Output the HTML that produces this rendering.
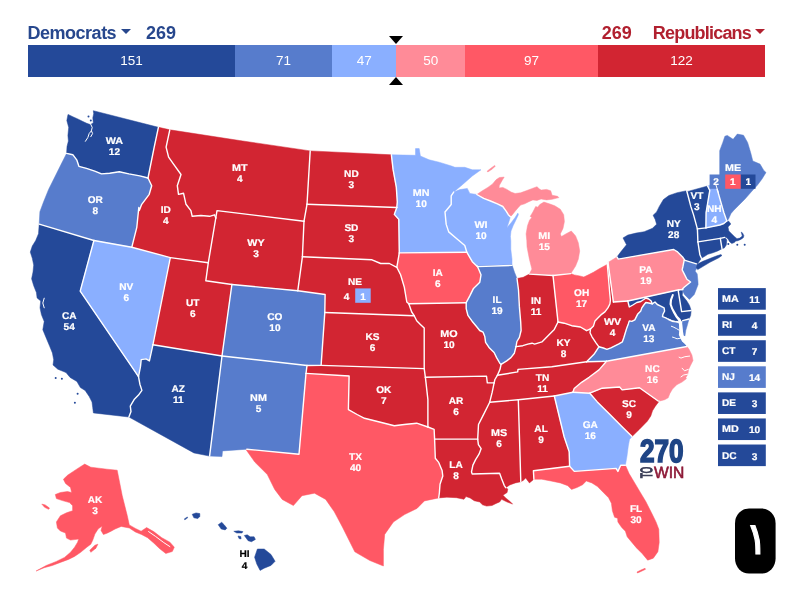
<!DOCTYPE html>
<html lang="en">
<head>
<meta charset="utf-8">
<title>2024 Presidential Election Interactive Map</title>
<style>
html,body{margin:0;padding:0;background:#fff;}
body{width:807px;height:592px;position:relative;overflow:hidden;font-family:"Liberation Sans",sans-serif;}
.hdr{position:absolute;top:21.9px;height:22px;line-height:22px;font-weight:bold;font-size:18px;white-space:nowrap;}
.dem{color:#27478d;}
.rep{color:#b1202f;}
.nm{letter-spacing:-0.5px;}
.rep.nm{letter-spacing:-0.8px;}
.caret{position:absolute;top:29.3px;width:0;height:0;border-left:5px solid transparent;border-right:5px solid transparent;border-top:5px solid #27478d;}
.caret.r{border-top-color:#b1202f;}
.bar{position:absolute;left:28px;top:45px;width:737px;height:31.6px;display:flex;color:#fff;font-size:13.5px;line-height:31.5px;text-align:center;}
.bar div{height:100%;}
.tri{position:absolute;left:388.7px;width:0;height:0;border-left:7.3px solid transparent;border-right:7.3px solid transparent;}
.tri.t{top:35.5px;border-top:8px solid #000;}
.tri.b{top:77px;border-bottom:8px solid #000;}
svg{position:absolute;left:0;top:0;text-rendering:geometricPrecision;}
.st{stroke:#fff;stroke-width:1.35;stroke-linejoin:round;}
.lb{font-family:"Liberation Sans",sans-serif;font-weight:bold;font-size:9.8px;fill:#fff;text-anchor:middle;stroke:#fff;stroke-width:0.2;}
.bx{font-family:"Liberation Sans",sans-serif;font-weight:bold;font-size:9.8px;fill:#fff;stroke:#fff;stroke-width:0.2;}
</style>
</head>
<body>
<div class="hdr dem nm" style="left:27.6px">Democrats</div>
<div class="caret" style="left:120.8px"></div>
<div class="hdr dem" style="left:146px">269</div>
<div class="hdr rep" style="left:601.8px">269</div>
<div class="hdr rep nm" style="left:652.8px">Republicans</div>
<div class="caret r" style="left:755px"></div>
<div class="bar">
<div style="width:206.85px;background:#244999">151</div>
<div style="width:97.26px;background:#577ccc">71</div>
<div style="width:64.38px;background:#8aafff">47</div>
<div style="width:68.5px;background:#ff8b98">50</div>
<div style="width:132.9px;background:#ff5865">97</div>
<div style="width:167.11px;background:#d22532">122</div>
</div>
<div class="tri t"></div><div class="tri b"></div>
<svg width="807" height="592" viewBox="0 0 807 592">

<g stroke-width="0.5" stroke-linejoin="round">
<path id="WA" fill="#244999" stroke="#244999" d="M66.6,153.4 L67,146.5 L68.4,141 L67.9,135.6 L68.7,127.4 L66.8,120.5 L68,114.4 L72.8,116.7 L78.3,119.2 L83,121.6 L86.7,123.3 L90.3,124.6 L93.3,123 L92.8,117.8 L93.7,113.7 L93.3,110.7 L158.4,127.3 L154.2,147.1 L148,178 L139.8,175.9 L128.9,173.9 L119.3,171.8 L109.7,173.2 L101.5,173.9 L94.7,171.1 L86.5,168.4 L78.9,166.3 L76.9,160.2 L72.8,154.7Z"/>
<path id="OR" fill="#577ccc" stroke="#577ccc" d="M39.2,224.1 L39.9,211.7 L43.6,201.8 L48.6,189.4 L54.8,177 L61,164.5 L66.6,153.4 L72.8,154.7 L76.9,160.2 L78.9,166.3 L86.5,168.4 L94.7,171.1 L101.5,173.9 L109.7,173.2 L119.3,171.8 L128.9,173.9 L139.8,175.9 L148,178 L151.7,185.7 L149.2,194.3 L141.7,204.3 L139.3,210.5 L138.8,207.5 L136.8,227.3 L131.8,247.2 L93.9,240.5Z"/>
<path id="CA" fill="#244999" stroke="#244999" d="M39.2,224.1 L38.5,233.7 L35.7,240.5 L32.3,246 L30.3,252.1 L32.3,258.3 L33.7,265.1 L33,272 L31.6,278.8 L33.7,285.7 L36.4,292.5 L37.1,298 L40.7,300.9 L40,307.8 L41.4,314.6 L44.2,321.5 L42.8,329.7 L46.2,337.9 L49.6,346.1 L52.4,352.9 L53.7,359.8 L53,365 L57.8,369.2 L66,372.6 L70.1,377.4 L76.9,381.5 L80.4,387.6 L85.1,390.4 L89.2,396.5 L92,402 L92.7,407.5 L93.4,412.9 L128.9,417 L131,411.6 L130.3,406.1 L134.4,399.2 L138.5,395.1 L141.9,390.4 L139.9,384.2 L138.5,376.7 L80.2,291.1 L93.9,240.5Z"/>
<path id="NV" fill="#8aafff" stroke="#8aafff" d="M138.5,376.7 L80.2,291.1 L93.9,240.5 L131.8,247.2 L170.3,257.6 L152.9,344.8 L149.4,360.9 L146,358.9 L141.2,359.6 L140.5,366.4Z"/>
<path id="ID" fill="#d22532" stroke="#d22532" d="M158.6,127.3 L169.8,129.8 L166.1,147.2 L168.6,157.1 L174.8,165.8 L181,174.5 L177.3,185.7 L178.5,194.4 L183.5,193.2 L186,204.3 L190.9,210.6 L192.2,216.3 L200.9,215.5 L209.6,216.3 L214.5,214.8 L215.8,218 L208.3,262.7 L170.3,257.6 L131.8,247.2 L136.8,227.3 L138.8,207.5 L139.3,210.5 L141.7,204.3 L149.2,194.3 L151.7,185.7 L148,178 L154.2,147.1 L158.4,127.3Z"/>
<path id="MT" fill="#d22532" stroke="#d22532" d="M169.8,129.8 L239.4,140.5 L310.2,150.9 L307,204.3 L304,221.2 L217,210.6 L215.8,218 L214.5,214.8 L209.6,216.3 L200.9,215.5 L192.2,216.3 L190.9,210.6 L186,204.3 L183.5,193.2 L178.5,194.4 L177.3,185.7 L181,174.5 L174.8,165.8 L168.6,157.1 L166.1,147.2Z"/>
<path id="WY" fill="#d22532" stroke="#d22532" d="M215.8,218 L217,210.6 L304,221.2 L302.4,256.8 L297.8,290.7 L231.9,284.5 L205.8,280.8 L208.3,262.7Z"/>
<path id="UT" fill="#d22532" stroke="#d22532" d="M170.3,257.6 L208.3,262.7 L205.8,280.8 L231.9,284.5 L222,356 L152.9,344.8Z"/>
<path id="CO" fill="#577ccc" stroke="#577ccc" d="M231.9,284.5 L297.8,290.7 L325.1,294.5 L324.8,312.5 L321.1,365.4 L307,365.5 L222,356Z"/>
<path id="AZ" fill="#244999" stroke="#244999" d="M152.9,344.8 L222,356 L209.6,456.1 L193.9,452.9 L128.9,417 L131,411.6 L130.3,406.1 L134.4,399.2 L138.5,395.1 L141.9,390.4 L139.9,384.2 L138.5,376.7 L140.5,366.4 L141.2,359.6 L146,358.9 L149.4,360.9Z"/>
<path id="NM" fill="#577ccc" stroke="#577ccc" d="M222,356 L307,365.5 L306,373.4 L299,454.2 L246.8,449.2 L222.5,450.9 L222,456.6 L209.6,456.1Z"/>
<path id="ND" fill="#d22532" stroke="#d22532" d="M310.2,150.9 L391.4,154.8 L393.1,169.7 L396.3,187.1 L397.3,202 L396.8,207.5 L307,204.3Z"/>
<path id="SD" fill="#d22532" stroke="#d22532" d="M307,204.3 L396.8,207.5 L394.3,214.4 L398.8,219.4 L399.3,252.9 L396.8,267.3 L389.4,263.5 L380.7,263.5 L372,259.8 L302.4,256.8 L304,221.2Z"/>
<path id="NE" fill="#d22532" stroke="#d22532" d="M302.4,256.8 L372,259.8 L380.7,263.5 L389.4,263.5 L396.8,267.3 L400.6,274.7 L404.3,287.1 L406.8,302 L408.8,303.8 L411.7,312 L414.2,315.7 L324.8,312.5 L325.1,294.5 L297.8,290.7Z"/>
<path id="KS" fill="#d22532" stroke="#d22532" d="M324.8,312.5 L414.2,315.7 L416.7,320.7 L420.4,324.4 L424.2,328.1 L424.2,368.6 L321.1,365.4Z"/>
<path id="OK" fill="#d22532" stroke="#d22532" d="M307,365.5 L321.1,365.4 L424.2,368.6 L425.4,377.3 L427.9,399.6 L427.9,427 L416.7,423.2 L404.3,424.5 L394.3,425.7 L384.4,423.2 L374.5,420.7 L364.5,418.3 L357.1,414.5 L348.4,409.6 L349.1,376 L306,373.4Z"/>
<path id="TX" fill="#ff5865" stroke="#ff5865" d="M306,373.4 L349.1,376 L348.4,409.6 L357.1,414.5 L364.5,418.3 L374.5,420.7 L384.4,423.2 L394.3,425.7 L404.3,424.5 L416.7,423.2 L427.9,427 L434.1,429.4 L434.6,439.1 L435.3,458.3 L438.7,462.4 L442.1,470.6 L442.8,476 L440,484.2 L439.4,492.5 L438.7,497.9 L424.4,500.9 L417,508.4 L404.5,514.6 L393.4,522 L384.7,534.4 L383.4,549.3 L383.4,566 L369.8,560.5 L354.8,551.8 L342.4,527 L334.3,511.8 L325.7,499.4 L314.5,493.2 L302,495.7 L293.4,505.6 L282.2,499.4 L274.7,489.4 L267.3,474.5 L254.8,462.1 L246.1,449.7 L246.8,449.2 L299,454.2Z"/>
<path id="MN" fill="#8aafff" stroke="#8aafff" d="M391.4,154.8 L415.5,155.3 L415.5,148.6 L419.2,148.6 L420.4,156 L429.1,159.8 L439.1,162.2 L451.5,166 L454.9,167.3 L464.8,167.3 L472.3,169.8 L481,169.8 L472.3,176 L462.4,184.7 L453.7,192.1 L451.2,195.8 L451.2,204.5 L445,212 L446.2,224.4 L448.7,231.9 L457.4,239.3 L464.8,245.5 L466.8,252.2 L466.4,252.2 L399.3,252.9 L398.8,219.4 L394.3,214.4 L396.8,207.5 L397.3,202 L396.3,187.1 L393.1,169.7Z"/>
<path id="IA" fill="#ff5865" stroke="#ff5865" d="M399.3,252.9 L466.4,252.2 L466.8,252.2 L472.3,261.7 L477.3,266.6 L477.3,266.1 L481,274.8 L479.8,282.2 L473.5,288.4 L469.8,295.9 L466.2,302.7 L408.8,303.8 L406.8,302 L404.3,287.1 L400.6,274.7 L396.8,267.3Z"/>
<path id="MO" fill="#d22532" stroke="#d22532" d="M408.8,303.8 L466.2,302.7 L466.2,308.6 L467.9,315.3 L472.1,321.2 L476.3,326.3 L479.7,330.5 L483.1,332.2 L484.8,336.5 L485.6,342.4 L489,347.4 L494.1,352.5 L496.6,357.6 L500,363.5 L501.1,364.3 L500,369.4 L497.4,375.3 L494.9,379.5 L494.1,382.9 L487.3,382.9 L486.5,376.1 L425.4,377.3 L424.2,368.6 L424.2,328.1 L420.4,324.4 L416.7,320.7 L414.2,315.7 L411.7,312Z"/>
<path id="AR" fill="#d22532" stroke="#d22532" d="M425.4,377.3 L486.5,376.1 L487.3,382.9 L494.1,382.9 L492.2,392.2 L489.7,402.2 L483.5,414.6 L478.5,424.5 L477.7,439.1 L434.6,439.1 L434.1,429.4 L427.9,427 L427.9,399.6Z"/>
<path id="LA" fill="#d22532" stroke="#d22532" d="M434.6,439.1 L477.7,439.1 L478.4,444.6 L481.1,448.7 L479,454.2 L475.6,459.6 L472.9,465.1 L471.5,471.9 L472.2,474 L499.6,473.3 L501.6,478.8 L504.3,485.6 L505.7,487.7 L507.8,489 L507.1,492.5 L503,495.2 L505.7,497.9 L509.8,501.3 L512.6,504.1 L507.1,502 L501.6,499.3 L499.6,502 L496.1,503.4 L492,505.5 L486.6,506.1 L482.5,504.8 L479.7,502 L474.2,500.7 L470.1,497.9 L466,496.6 L464,499.3 L456.5,497.7 L446.9,497.2 L438.7,497.9 L439.4,492.5 L440,484.2 L442.8,476 L442.1,470.6 L438.7,462.4 L435.3,458.3Z"/>
<path id="MS" fill="#d22532" stroke="#d22532" d="M489.7,402.2 L518.3,399.7 L519.4,435 L520.8,481.8 L515.3,482.9 L509.8,484.9 L505.7,487.7 L504.3,485.6 L501.6,478.8 L499.6,473.3 L472.2,474 L471.5,471.9 L472.9,465.1 L475.6,459.6 L479,454.2 L481.1,448.7 L478.4,444.6 L477.7,439.1 L478.5,424.5 L483.5,414.6Z"/>
<path id="AL" fill="#d22532" stroke="#d22532" d="M518.3,399.7 L554.3,396 L564.2,437 L569.2,451.9 L569.6,466.2 L533.4,470.8 L533.9,479.2 L529.4,482.9 L525.7,478 L523.2,480.4 L520.8,481.8 L519.4,435Z"/>
<path id="GA" fill="#8aafff" stroke="#8aafff" d="M554.3,396 L572.9,392.2 L589.8,393.2 L597.3,401.9 L609.7,414.3 L622.1,426.7 L632,436.6 L629.5,439.5 L628.3,446 L627,456 L625.4,465.2 L620.7,465.2 L617.9,471.4 L616.1,468.4 L574.3,471.4 L569.6,466.2 L569.2,451.9 L564.2,437Z"/>
<path id="FL" fill="#ff5865" stroke="#ff5865" d="M569.6,466.2 L574.3,471.4 L616.1,468.4 L617.9,471.4 L620.7,465.2 L625.4,465.2 L629.1,473.6 L634.7,482.9 L640.2,492.2 L645.8,501.5 L651.4,512.6 L656,521.9 L658.8,529.3 L659.2,542.4 L657.9,551.7 L653.3,558.2 L647.7,560.2 L642.1,553.5 L636.5,547.9 L631.9,542.4 L627.2,536.8 L625.4,531.2 L621.7,527.5 L617.9,521.9 L617.6,518.2 L614.6,517.3 L612.4,510.8 L611.4,503.3 L608.6,497.8 L603.1,492.2 L597.5,486.6 L591.9,482.9 L586.3,481 L582.6,484.7 L577,487.5 L571.5,489.4 L567.8,485.7 L560.3,482.9 L551,481 L541.7,479.2 L533.9,479.2 L533.4,470.8Z"/>
<path id="SC" fill="#d22532" stroke="#d22532" d="M589.8,393.2 L602.2,388.2 L619.6,387 L622.1,389.9 L639.5,387.8 L657.8,400.8 L659.1,401.2 L655.2,406.4 L652.5,410.8 L650.8,416 L647.3,421.2 L639.5,429.2 L632,436.6 L622.1,426.7 L609.7,414.3 L597.3,401.9Z"/>
<path id="NC" fill="#ff8b98" stroke="#ff8b98" d="M606.5,361.2 L687,346.5 L689.2,349.6 L691.9,355 L693,360.5 L690.6,365.3 L688.6,369.4 L687.8,374.2 L685.9,377.6 L686.4,378.7 L682,382.1 L676.8,384.7 L672.5,389.1 L669.9,393.4 L668.2,397.8 L664.7,399.7 L659.1,401.2 L657.8,400.8 L639.5,387.8 L622.1,389.9 L619.6,387 L602.2,388.2 L589.8,393.2 L572.9,392.2 L574.2,388.5 L581.6,382.3 L589.1,377.3 L599,369.9Z"/>
<path id="TN" fill="#d22532" stroke="#d22532" d="M497.4,375.3 L517.7,371.9 L518,369.4 L551.8,366.7 L586.6,361.7 L606.5,361.2 L599,369.9 L589.1,377.3 L581.6,382.3 L574.2,388.5 L572.9,392.2 L554.3,396 L518.3,399.7 L489.7,402.2 L492.2,392.2 L494.1,382.9 L494.9,379.5Z"/>
<path id="KY" fill="#d22532" stroke="#d22532" d="M516,346.6 L522.8,345.7 L527.8,344.1 L532.1,343.2 L534.6,344.1 L541.9,341.9 L549.3,334.4 L554.3,329.4 L558,322 L564.2,323.2 L571.7,325.7 L580.4,327 L586.6,330.7 L590.5,328.9 L590,332.8 L592,336.8 L596,342.8 L598.9,346.8 L594,354.3 L586.6,361.7 L551.8,366.7 L518,369.4 L517.7,371.9 L497.4,375.3 L500,369.4 L501.1,364.3 L506.7,360.9 L510.9,357.6 L514.3,353.3Z"/>
<path id="WI" fill="#8aafff" stroke="#8aafff" d="M453.7,192.1 L459.9,189.6 L467.3,188.4 L469.8,193.4 L476.8,194.5 L483.7,198.3 L490.5,201 L497.4,203.8 L502.8,206.5 L506.3,211.3 L508.3,214.7 L510.4,216.8 L509,221.6 L506.9,227.7 L511,222.9 L515.1,217.5 L517.9,213.1 L518.4,214.7 L515.8,220.2 L513.1,225.7 L511,231.1 L510.4,236.6 L510.8,240.7 L510.8,249.3 L512,259.2 L512,265.4 L477.3,266.6 L472.3,261.7 L466.8,252.2 L464.8,245.5 L457.4,239.3 L448.7,231.9 L446.2,224.4 L445,212 L451.2,204.5 L451.2,195.8Z"/>
<path id="MI_UP" fill="#ff8b98" stroke="#ff8b98" d="M476.8,194.5 L482.3,190.8 L487.8,187.4 L492.6,183.9 L496,179.8 L499.4,177.5 L504.2,177.1 L502.1,180.5 L499.4,185.3 L499,188 L502.8,187.4 L506.9,189.4 L511,192.1 L515.1,193.5 L520.6,192.8 L526.1,190.8 L531.6,188.7 L537,186.7 L539.1,188.7 L541.1,190.1 L546.6,189.4 L550.7,190.8 L552.1,195.3 L557.6,196.3 L558.9,197.6 L552.1,199.3 L546.6,199.9 L541.1,199 L537,200.4 L532.9,199.9 L528.8,201.7 L524.7,203.8 L520.6,205.1 L517.9,207.9 L515.1,211.3 L512.4,214.7 L510.4,216.8 L508.3,214.7 L506.3,211.3 L502.8,206.5 L497.4,203.8 L490.5,201 L483.7,198.3Z"/>
<path id="MI" fill="#ff8b98" stroke="#ff8b98" d="M543.9,202.1 L549.3,203.8 L554.8,205.8 L560.3,209.2 L563.7,214.7 L564.4,221.6 L563,228.4 L560.3,233.9 L561.4,236.6 L565.8,233.9 L571.2,231.1 L571.5,231.2 L575.6,235.9 L578.3,242.8 L579.7,251 L578.3,259.2 L575.6,266 L572.1,271.5 L570.8,273.6 L553,275.5 L529.4,274.1 L531.9,269.1 L529.4,259.2 L527,246.8 L526.8,240.7 L526.1,233.9 L527.5,225.7 L529.5,220.2 L531.8,217.5 L530.2,216.4 L532.9,212 L535.7,206.5 L537.7,207.2 L539.8,204.5Z"/>
<path id="IL" fill="#577ccc" stroke="#577ccc" d="M512,265.4 L477.3,266.6 L512,264.8 L514.5,272.3 L517,278.5 L518.5,290 L519.4,306.9 L520.7,322.1 L521.1,330.5 L519.4,337.3 L516.9,341.5 L516,346.6 L514.3,353.3 L510.9,357.6 L506.7,360.9 L501.1,364.3 L500,363.5 L496.6,357.6 L494.1,352.5 L489,347.4 L485.6,342.4 L484.8,336.5 L483.1,332.2 L479.7,330.5 L476.3,326.3 L472.1,321.2 L467.9,315.3 L466.2,308.6 L466.2,302.7 L469.8,295.9 L473.5,288.4 L479.8,282.2 L481,274.8 L477.3,266.1Z"/>
<path id="IN" fill="#d22532" stroke="#d22532" d="M517,278.5 L523.2,277.3 L529.4,274.1 L553,275.5 L558,322 L554.3,329.4 L549.3,334.4 L541.9,341.9 L534.6,344.1 L532.1,343.2 L527.8,344.1 L522.8,345.7 L516,346.6 L516.9,341.5 L519.4,337.3 L521.1,330.5 L520.7,322.1 L519.4,306.9 L518.5,290Z"/>
<path id="OH" fill="#ff5865" stroke="#ff5865" d="M553,275.5 L570.8,273.6 L574.2,274.9 L579.7,275.9 L583.8,277 L587.9,275.1 L593.4,272.3 L598.8,269 L604.3,266 L607.3,264.3 L609.9,295 L610.4,300 L609.9,304 L607.9,307.9 L604.9,311.9 L600.9,314.9 L597.9,317.9 L595,320.9 L593.5,325.9 L590.5,328.9 L586.6,330.7 L580.4,327 L571.7,325.7 L564.2,323.2 L558,322Z"/>
<path id="WV" fill="#d22532" stroke="#d22532" d="M590.5,328.9 L593.5,325.9 L595,320.9 L597.9,317.9 L600.9,314.9 L604.9,311.9 L607.9,307.9 L609.9,304 L610.4,300 L609.9,295 L607.3,264.3 L608,262.5 L613.4,302 L627.8,301 L629.3,307 L632.8,305 L636.8,302.5 L640.8,301.5 L643.8,299.5 L645.8,298 L648.7,299 L651.2,301 L652.2,303.8 L648.7,303 L645.8,302.5 L643.8,305 L641.8,307.9 L640.8,310.9 L637.8,313.9 L636.3,316.9 L634.8,319.9 L631.8,321.4 L629.3,320.9 L628.3,323.9 L626.8,327.9 L625.3,332.8 L623.8,337.8 L622.4,341.8 L618.9,343.8 L614.9,345.8 L610.9,347.8 L606.9,349.3 L603.4,348 L598.9,346.8 L596,342.8 L592,336.8 L590,332.8Z"/>
<path id="VA" fill="#577ccc" stroke="#577ccc" d="M598.9,346.8 L603.4,348 L606.9,349.3 L610.9,347.8 L614.9,345.8 L618.9,343.8 L622.4,341.8 L623.8,337.8 L625.3,332.8 L626.8,327.9 L628.3,323.9 L629.3,320.9 L631.8,321.4 L634.8,319.9 L636.3,316.9 L637.8,313.9 L640.8,310.9 L641.8,307.9 L643.8,305 L645.8,302.5 L648.7,303 L652.2,303.8 L655,302 L657.3,304.5 L660.7,306.1 L664.1,307.9 L664.6,311 L662.9,314.4 L662.5,316.7 L665.8,317.8 L668.6,319.5 L672,321.2 L675.9,321.9 L678.2,322.3 L679,324 L679.4,330.3 L678.9,334.8 L680.5,338.2 L682.2,341.6 L685,343.9 L687,346.5 L606.5,361.2 L586.6,361.7 L594,354.3Z"/>
<path id="VA_es" fill="#577ccc" stroke="#577ccc" d="M682.7,320.6 L689,319 L687.5,324.6 L685.8,330.3 L684.9,336.2 L683.5,335.4 L682.8,330.3 L682.2,324.6Z"/>
<path id="MD" fill="#244999" stroke="#244999" d="M627.8,301 L678.9,289.8 L627.8,301 L629.3,307 L632.8,305 L636.8,302.5 L640.8,301.5 L643.8,299.5 L645.8,298 L648.7,299 L651.2,301 L652.2,303.8 L655,302 L657.3,304.5 L660.7,306.1 L664.1,307.9 L664.6,311 L662.9,314.4 L662.5,316.7 L665.8,317.8 L668.6,319.5 L672,321.2 L675.9,321.9 L678.2,322.3 L682.7,320.6 L689,319 L690.6,315.6 L691.2,310.5 L681.6,311.6 L678.2,290.7 L678.9,289.8Z"/>
<path id="DE" fill="#244999" stroke="#244999" d="M683,289.6 L682.2,295.2 L686.7,300.8 L689.5,305.4 L691.2,310.5 L681.6,311.6 L678.2,290.7 L678.9,289.8Z"/>
<path id="PA" fill="#ff8b98" stroke="#ff8b98" d="M608,262.5 L616.9,257 L618.3,259.1 L673.7,249.5 L677.1,251.6 L682.6,257 L684.6,259.8 L684.2,260.2 L682.8,267 L682.1,269.8 L684.2,273.9 L686.9,279.3 L690.6,282 L684.4,287 L681.9,289.4 L683,289.6 L678.9,289.8 L627.8,301 L613.4,302Z"/>
<path id="NJ" fill="#577ccc" stroke="#577ccc" d="M684.2,260.2 L696.4,263.8 L697.1,267.8 L695.1,271.1 L697.2,273.9 L697.9,280.7 L698.1,284.5 L694.3,294.4 L689.4,299.4 L684.4,294.4 L681.9,289.4 L684.4,287 L690.6,282 L686.9,279.3 L684.2,273.9 L682.1,269.8 L682.8,267Z"/>
<path id="NY" fill="#244999" stroke="#244999" d="M616.9,257 L621,251.6 L626.5,244.7 L623,237.9 L627.8,235.1 L636,233.1 L644.2,231.7 L652.5,228.3 L656.6,224.2 L655.2,219.4 L653.1,215.3 L656.6,211.9 L659.3,206.4 L663.4,199.6 L668.9,195.5 L677.1,192.7 L686.7,190.7 L688.7,198.2 L690.8,206.4 L693.5,214.6 L697.4,228.9 L697.9,241.9 L699.9,254.8 L701.4,258.3 L698.9,261.8 L696.9,264.8 L696.4,263.8 L684.2,260.2 L684.6,259.8 L682.6,257 L677.1,251.6 L673.7,249.5 L618.3,259.1Z"/>
<path id="LI" fill="#244999" stroke="#244999" d="M696.9,264.8 L698.9,263.3 L702.9,261.3 L707.9,259.3 L712.9,257.3 L716.9,255.8 L720.8,254.6 L722,255.4 L718.8,257.8 L714.9,259.8 L709.9,262.3 L704.9,265.3 L699.9,268.3 L697.7,269.6 L696.4,267.8Z"/>
<path id="CT" fill="#244999" stroke="#244999" d="M697.9,241.9 L720.3,238.4 L722,248.7 L717.8,250.9 L712.9,252.8 L707.9,254.3 L703.9,256.8 L701.4,258.3 L699.9,254.8Z"/>
<path id="RI" fill="#244999" stroke="#244999" d="M720.3,238.4 L724.8,237.4 L726.8,239.9 L726.3,244.9 L724.3,247.9 L722,248.7Z"/>
<path id="MA" fill="#244999" stroke="#244999" d="M697.4,228.9 L705.9,227.9 L719.8,225 L723.8,223.5 L726.8,221 L728.8,221.2 L730.8,224 L728,227 L728.8,230.9 L731.8,233.9 L734.3,236.4 L737,238.7 L739.8,238.1 L742.3,236.1 L741.2,232.1 L742.5,232.9 L743.9,235.7 L743.3,237.7 L740.8,239.4 L737.8,240.7 L735.8,241.1 L734.3,242.5 L731.8,243.5 L729.8,241.9 L728.3,239.4 L726.8,237.7 L724.8,237.4 L720.3,238.4 L697.9,241.9Z"/>
<path id="VT" fill="#244999" stroke="#244999" d="M686,191.9 L707.6,186 L709.8,190.4 L708.3,199.3 L706.1,212.7 L705.9,227.9 L697.4,228.9 L693.5,214.6 L690.8,206.4 L688.7,198.2 L686.7,190.7Z"/>
<path id="NH" fill="#8aafff" stroke="#8aafff" d="M707.6,186 L712,184.5 L715.8,184.5 L723.9,212.7 L726.8,221 L723.8,223.5 L719.8,225 L705.9,227.9 L706.1,212.7 L708.3,199.3 L709.8,190.4Z"/>
<path id="ME" fill="#577ccc" stroke="#577ccc" d="M715.8,184.5 L719.7,181.7 L719.7,171.4 L719.7,150.7 L722.8,142.4 L724.9,136.2 L727.3,135.4 L733.1,139.3 L737.3,134.1 L743.5,135.2 L747.6,142.4 L750.7,152.8 L752.8,161 L760,164.1 L763.8,170.4 L766,172.5 L762,179 L757.5,185 L752,191 L745,199 L739,205 L734,210 L731,213.5 L728.5,219 L726.8,221 L723.9,212.7Z"/>
<path id="MI_ir" fill="#ff8b98" stroke="#ff8b98" d="M487.1,171.2 L490.5,168.5 L494.6,165.5 L495.3,166.2 L491.9,169.3 L487.8,172Z"/>
<path id="FL_k" fill="#ff5865" stroke="#ff5865" d="M637,572 L641,570 L645,568.3 L645.5,569.3 L641.5,571.2 L637.5,573Z"/>
<path id="AK" fill="#ff5865" stroke="#ff5865" d="M84.7,464.1 L90.8,467.2 L98.9,468.2 L107,469.2 L117.2,470.2 L122.2,495.5 L127.3,515.8 L129.3,524.9 L135.4,528.4 L141.1,531.2 L146.6,527.6 L153.7,531.6 L161.8,537.7 L169.9,542.2 L174.3,547.2 L172.3,551.5 L165.8,553.5 L159.7,548.7 L153.7,543 L147.6,537.7 L141.5,534.5 L135.4,532 L129.3,528 L121.2,526.4 L115.1,529 L111.1,531.2 L107,533.2 L103.4,534.5 L101,530.4 L102.2,526 L98.1,529 L94.9,534.1 L92.8,540.1 L90.8,544.2 L86.8,547.2 L80.7,552.3 L74.6,556.4 L68.5,559.4 L60.4,562.4 L52.3,565.5 L44.2,567.7 L36.1,571 L46.2,565.5 L56.4,561.4 L64.5,557.4 L70.5,552.3 L74.6,547.2 L77.6,542.2 L78.7,539.1 L70.5,540.1 L66.5,538.1 L65.5,533 L60.4,531 L57.4,528 L56.4,521.9 L60.4,515.8 L66.5,512.8 L72.6,510.7 L72.6,505.7 L69.5,502.6 L62.4,500.6 L56.4,498.6 L55.3,494.5 L60.4,492.5 L67.5,491.5 L71.6,492.5 L70.5,487.4 L65.5,483.4 L63.4,479.3 L67.5,475.3 L73.6,471.2 L79.7,467.2Z"/>
<path id="AK_k" fill="#ff5865" stroke="#ff5865" d="M89.8,550.3 L94.9,545.2 L97.9,544.2 L95.9,548.2 L90.8,552.3Z"/>
<path id="AK_s" fill="#ff5865" stroke="#ff5865" d="M41.8,504.1 L45.2,504.9 L49.5,508.1 L48.6,509.3 L44.6,507.3Z"/>
<path id="HI1" fill="#244999" stroke="#244999" d="M192.2,514.3 L196,512.9 L199.8,513.6 L199.8,516.4 L197.8,518.6 L193.9,517.8Z"/>
<path id="HI2" fill="#244999" stroke="#244999" d="M218.2,524.7 L221.7,522.3 L224.1,524.7 L226.9,528.2 L225.2,529.9 L221.2,529Z"/>
<path id="HI3" fill="#244999" stroke="#244999" d="M233.8,531.3 L238.5,530.8 L242.9,531.6 L242,533 L236.8,533Z"/>
<path id="HI4" fill="#244999" stroke="#244999" d="M238,536 L240.8,536.5 L241.1,538.9 L239,538.6Z"/>
<path id="HI5" fill="#244999" stroke="#244999" d="M244.3,535.5 L247.2,534.8 L250.2,536.8 L254.1,536.8 L255.4,539.4 L251.5,541.7 L248.1,540.7 L246.3,538.2Z"/>
<path id="HI6" fill="#244999" stroke="#244999" d="M257.4,549 L264.2,549 L271,554.5 L275.1,561.3 L271,565.4 L264.2,568.2 L260.1,570.4 L256.8,564.1 L254.6,557.2Z"/>
<path id="HI7" fill="#244999" stroke="#244999" d="M184.2,519.1 L187.3,516.9 L187.7,517.8 L184.9,519.8Z"/>
</g>
<g fill="#fff" stroke="none">
<path d="M672.2,294.1 L669.9,299.7 L669.5,304.2 L671.1,308.8 L673.3,313.3 L675.6,317.3 L678.2,320.6 L678.2,322.3 L679,324 L679.4,330.3 L678.9,334.8 L680.5,338.2 L682.2,341.6 L685,343.9 L687,346.5 L689,346.1 L687.3,342.7 L684.9,336.2 L683.5,335.4 L682.8,330.3 L682.2,324.6 L681.6,321.8 L680.5,319 L677.6,316.1 L675.4,312.2 L673.1,308.2 L671.7,304.2 L672,300.3 L674,294.6Z"/>
</g>
<g fill="none" stroke="#fff" stroke-width="1.4" stroke-linecap="round" stroke-linejoin="round">
<path d="M66.6,153.4 L72.8,154.7 L76.9,160.2 L78.9,166.3 L86.5,168.4 L94.7,171.1 L101.5,173.9 L109.7,173.2 L119.3,171.8 L128.9,173.9 L139.8,175.9 L148,178"/>
<path d="M158.4,127.3 L154.2,147.1 L148,178"/>
<path d="M148,178 L151.7,185.7 L149.2,194.3 L141.7,204.3 L139.3,210.5 L138.8,207.5 L136.8,227.3 L131.8,247.2"/>
<path d="M39.2,224.1 L93.9,240.5"/>
<path d="M93.9,240.5 L131.8,247.2"/>
<path d="M128.9,417 L131,411.6 L130.3,406.1 L134.4,399.2 L138.5,395.1 L141.9,390.4 L139.9,384.2 L138.5,376.7"/>
<path d="M138.5,376.7 L80.2,291.1 L93.9,240.5"/>
<path d="M138.5,376.7 L140.5,366.4 L141.2,359.6 L146,358.9 L149.4,360.9 L152.9,344.8"/>
<path d="M152.9,344.8 L170.3,257.6"/>
<path d="M131.8,247.2 L170.3,257.6"/>
<path d="M169.8,129.8 L166.1,147.2 L168.6,157.1 L174.8,165.8 L181,174.5 L177.3,185.7 L178.5,194.4 L183.5,193.2 L186,204.3 L190.9,210.6 L192.2,216.3 L200.9,215.5 L209.6,216.3 L214.5,214.8 L215.8,218"/>
<path d="M215.8,218 L208.3,262.7"/>
<path d="M170.3,257.6 L208.3,262.7"/>
<path d="M310.2,150.9 L307,204.3"/>
<path d="M307,204.3 L304,221.2"/>
<path d="M215.8,218 L217,210.6 L304,221.2"/>
<path d="M304,221.2 L302.4,256.8"/>
<path d="M302.4,256.8 L297.8,290.7"/>
<path d="M231.9,284.5 L297.8,290.7"/>
<path d="M208.3,262.7 L205.8,280.8 L231.9,284.5"/>
<path d="M231.9,284.5 L222,356"/>
<path d="M152.9,344.8 L222,356"/>
<path d="M222,356 L209.6,456.1"/>
<path d="M222,356 L307,365.5"/>
<path d="M307,365.5 L321.1,365.4"/>
<path d="M321.1,365.4 L324.8,312.5"/>
<path d="M324.8,312.5 L325.1,294.5 L297.8,290.7"/>
<path d="M307,365.5 L306,373.4"/>
<path d="M306,373.4 L299,454.2 L246.8,449.2"/>
<path d="M391.4,154.8 L393.1,169.7 L396.3,187.1 L397.3,202 L396.8,207.5"/>
<path d="M307,204.3 L396.8,207.5"/>
<path d="M396.8,207.5 L394.3,214.4 L398.8,219.4 L399.3,252.9"/>
<path d="M399.3,252.9 L396.8,267.3"/>
<path d="M302.4,256.8 L372,259.8 L380.7,263.5 L389.4,263.5 L396.8,267.3"/>
<path d="M396.8,267.3 L400.6,274.7 L404.3,287.1 L406.8,302 L408.8,303.8"/>
<path d="M408.8,303.8 L411.7,312 L414.2,315.7"/>
<path d="M324.8,312.5 L414.2,315.7"/>
<path d="M414.2,315.7 L416.7,320.7 L420.4,324.4 L424.2,328.1 L424.2,368.6"/>
<path d="M321.1,365.4 L424.2,368.6"/>
<path d="M424.2,368.6 L425.4,377.3"/>
<path d="M425.4,377.3 L427.9,399.6 L427.9,427"/>
<path d="M306,373.4 L349.1,376 L348.4,409.6 L357.1,414.5 L364.5,418.3 L374.5,420.7 L384.4,423.2 L394.3,425.7 L404.3,424.5 L416.7,423.2 L427.9,427"/>
<path d="M427.9,427 L434.1,429.4 L434.6,439.1"/>
<path d="M434.6,439.1 L435.3,458.3 L438.7,462.4 L442.1,470.6 L442.8,476 L440,484.2 L439.4,492.5 L438.7,497.9"/>
<path d="M399.3,252.9 L466.4,252.2"/>
<path d="M408.8,303.8 L466.2,302.7"/>
<path d="M453.7,192.1 L451.2,195.8 L451.2,204.5 L445,212 L446.2,224.4 L448.7,231.9 L457.4,239.3 L464.8,245.5 L466.8,252.2"/>
<path d="M466.8,252.2 L472.3,261.7 L477.3,266.6"/>
<path d="M477.3,266.1 L481,274.8 L479.8,282.2 L473.5,288.4 L469.8,295.9 L466.2,302.7"/>
<path d="M466.2,302.7 L466.2,308.6 L467.9,315.3 L472.1,321.2 L476.3,326.3 L479.7,330.5 L483.1,332.2 L484.8,336.5 L485.6,342.4 L489,347.4 L494.1,352.5 L496.6,357.6 L500,363.5 L501.1,364.3"/>
<path d="M501.1,364.3 L500,369.4 L497.4,375.3"/>
<path d="M497.4,375.3 L494.9,379.5 L494.1,382.9"/>
<path d="M425.4,377.3 L486.5,376.1 L487.3,382.9 L494.1,382.9"/>
<path d="M494.1,382.9 L492.2,392.2 L489.7,402.2"/>
<path d="M489.7,402.2 L483.5,414.6 L478.5,424.5 L477.7,439.1"/>
<path d="M434.6,439.1 L477.7,439.1"/>
<path d="M477.7,439.1 L478.4,444.6 L481.1,448.7 L479,454.2 L475.6,459.6 L472.9,465.1 L471.5,471.9 L472.2,474 L499.6,473.3 L501.6,478.8 L504.3,485.6 L505.7,487.7"/>
<path d="M518.3,399.7 L519.4,435 L520.8,481.8"/>
<path d="M489.7,402.2 L518.3,399.7"/>
<path d="M518.3,399.7 L554.3,396"/>
<path d="M554.3,396 L564.2,437 L569.2,451.9 L569.6,466.2"/>
<path d="M569.6,466.2 L533.4,470.8 L533.9,479.2"/>
<path d="M554.3,396 L572.9,392.2"/>
<path d="M572.9,392.2 L589.8,393.2"/>
<path d="M589.8,393.2 L597.3,401.9 L609.7,414.3 L622.1,426.7 L632,436.6"/>
<path d="M569.6,466.2 L574.3,471.4 L616.1,468.4 L617.9,471.4 L620.7,465.2 L625.4,465.2"/>
<path d="M476.8,194.5 L483.7,198.3 L490.5,201 L497.4,203.8 L502.8,206.5 L506.3,211.3 L508.3,214.7 L510.4,216.8"/>
<path d="M477.3,266.6 L512,265.4"/>
<path d="M529.4,274.1 L553,275.5"/>
<path d="M553,275.5 L570.8,273.6"/>
<path d="M517,278.5 L518.5,290 L519.4,306.9 L520.7,322.1 L521.1,330.5 L519.4,337.3 L516.9,341.5 L516,346.6"/>
<path d="M516,346.6 L514.3,353.3 L510.9,357.6 L506.7,360.9 L501.1,364.3"/>
<path d="M553,275.5 L558,322"/>
<path d="M516,346.6 L522.8,345.7 L527.8,344.1 L532.1,343.2 L534.6,344.1 L541.9,341.9 L549.3,334.4 L554.3,329.4 L558,322"/>
<path d="M558,322 L564.2,323.2 L571.7,325.7 L580.4,327 L586.6,330.7 L590.5,328.9"/>
<path d="M590.5,328.9 L593.5,325.9 L595,320.9 L597.9,317.9 L600.9,314.9 L604.9,311.9 L607.9,307.9 L609.9,304 L610.4,300 L609.9,295 L607.3,264.3"/>
<path d="M607.3,264.3 L608,262.5"/>
<path d="M590.5,328.9 L590,332.8 L592,336.8 L596,342.8 L598.9,346.8"/>
<path d="M598.9,346.8 L594,354.3 L586.6,361.7"/>
<path d="M586.6,361.7 L551.8,366.7 L518,369.4 L517.7,371.9 L497.4,375.3"/>
<path d="M586.6,361.7 L606.5,361.2"/>
<path d="M606.5,361.2 L599,369.9 L589.1,377.3 L581.6,382.3 L574.2,388.5 L572.9,392.2"/>
<path d="M606.5,361.2 L687,346.5"/>
<path d="M589.8,393.2 L602.2,388.2 L619.6,387 L622.1,389.9 L639.5,387.8 L657.8,400.8 L659.1,401.2"/>
<path d="M598.9,346.8 L603.4,348 L606.9,349.3 L610.9,347.8 L614.9,345.8 L618.9,343.8 L622.4,341.8 L623.8,337.8 L625.3,332.8 L626.8,327.9 L628.3,323.9 L629.3,320.9 L631.8,321.4 L634.8,319.9 L636.3,316.9 L637.8,313.9 L640.8,310.9 L641.8,307.9 L643.8,305 L645.8,302.5 L648.7,303 L652.2,303.8"/>
<path d="M652.2,303.8 L651.2,301 L648.7,299 L645.8,298 L643.8,299.5 L640.8,301.5 L636.8,302.5 L632.8,305 L629.3,307 L627.8,301"/>
<path d="M627.8,301 L613.4,302"/>
<path d="M616.9,257 L618.3,259.1 L673.7,249.5 L677.1,251.6 L682.6,257 L684.6,259.8"/>
<path d="M684.2,260.2 L682.8,267 L682.1,269.8 L684.2,273.9 L686.9,279.3 L690.6,282 L684.4,287 L681.9,289.4"/>
<path d="M683,289.6 L678.9,289.8"/>
<path d="M678.9,289.8 L627.8,301"/>
<path d="M652.2,303.8 L655,302 L657.3,304.5 L660.7,306.1 L664.1,307.9 L664.6,311 L662.9,314.4 L662.5,316.7 L665.8,317.8 L668.6,319.5 L672,321.2 L675.9,321.9 L678.2,322.3"/>
<path d="M691.2,310.5 L681.6,311.6 L678.2,290.7 L678.9,289.8"/>
<path d="M684.2,260.2 L696.4,263.8"/>
<path d="M686.7,190.7 L688.7,198.2 L690.8,206.4 L693.5,214.6 L697.4,228.9"/>
<path d="M697.4,228.9 L697.9,241.9"/>
<path d="M697.9,241.9 L699.9,254.8 L701.4,258.3"/>
<path d="M697.9,241.9 L720.3,238.4"/>
<path d="M720.3,238.4 L722,248.7"/>
<path d="M720.3,238.4 L724.8,237.4"/>
<path d="M697.4,228.9 L705.9,227.9"/>
<path d="M705.9,227.9 L719.8,225 L723.8,223.5 L726.8,221"/>
<path d="M705.9,227.9 L706.1,212.7 L708.3,199.3 L709.8,190.4 L707.6,186"/>
<path d="M715.8,184.5 L723.9,212.7 L726.8,221"/>
<path d="M682.7,320.6 L689,319"/>
<path d="M608,262.5 L613.4,302"/>
</g>
<g fill="none" stroke="#fff" stroke-width="1" stroke-linecap="round" stroke-linejoin="round">
<path d="M90.8,124.4 L92.2,127.4 L91.4,130.8 L89.2,133.5 L87.8,137.6 L85.4,141.3"/>
<path d="M91.4,130.8 L92.6,133.5 L90.8,136.7"/>
<path d="M689.6,356.1 L684.8,356.7 L681,358.1 L679.1,357.2"/>
<path d="M688.2,369.4 L684.5,370.8 L682.1,368.2"/>
<path d="M687.6,374.2 L683.7,375 L681,376.9"/>
<path d="M148.6,531.6 L155.7,536.5 L163.8,542.6 L169.9,546.6"/>
<path d="M678.2,321.4 L675.4,321.4 L672,320.6 L668.6,319"/>
<path d="M679.3,330.3 L676.5,328.6 L673.1,326.9 L671.4,326.3"/>
<path d="M680.5,338.2 L677.1,338.8 L674.2,337.6 L672.5,337.1"/>
<path d="M44.2,298.2 L42.8,303 L44.2,307.8"/>
</g>
<circle cx="88.5" cy="116.4" r="1" fill="#244999"/>
<circle cx="90.8" cy="120.5" r="1" fill="#244999"/>
<circle cx="737.3" cy="244.7" r="1" fill="#244999"/>
<circle cx="744.7" cy="244.7" r="1" fill="#244999"/>
<circle cx="728.3" cy="243.9" r="1" fill="#244999"/>
<circle cx="55.7" cy="378" r="1" fill="#244999"/>
<circle cx="61.9" cy="378.7" r="1" fill="#244999"/>
<circle cx="77.6" cy="393.8" r="1" fill="#244999"/>
<circle cx="74.9" cy="402.7" r="1" fill="#244999"/>
<rect x="355.2" y="288.4" width="15.5" height="14.4" fill="#8aafff"/>
<rect x="709.6" y="174.5" width="15.8" height="14.3" fill="#577ccc"/>
<rect x="725.2" y="174.5" width="15.7" height="14.3" fill="#ff5865"/>
<rect x="740.8" y="174.5" width="14.7" height="14.3" fill="#244999"/>
<path d="M715.8,184.5 L718.5,193" stroke="#fff" stroke-width="1" fill="none"/>
<text class="lb" transform="translate(114.4,143.6) scale(1.1,1)">WA</text>
<text class="lb" transform="translate(114.4,154.6) scale(1.03,1)">12</text>
<text class="lb" transform="translate(95.3,202.6) scale(1.03,1)">OR</text>
<text class="lb" transform="translate(95.3,213.6) scale(1.03,1)">8</text>
<text class="lb" transform="translate(165.8,212.8) scale(1.03,1)">ID</text>
<text class="lb" transform="translate(165.8,223.8) scale(1.03,1)">4</text>
<text class="lb" transform="translate(126.3,290) scale(1.03,1)">NV</text>
<text class="lb" transform="translate(126.3,301) scale(1.03,1)">6</text>
<text class="lb" transform="translate(69.2,319.2) scale(1.03,1)">CA</text>
<text class="lb" transform="translate(69.2,330.2) scale(1.03,1)">54</text>
<text class="lb" transform="translate(192.7,306) scale(1.03,1)">UT</text>
<text class="lb" transform="translate(192.7,317) scale(1.03,1)">6</text>
<text class="lb" transform="translate(178.3,392.4) scale(1.03,1)">AZ</text>
<text class="lb" transform="translate(178.3,403.4) scale(1.03,1)">11</text>
<text class="lb" transform="translate(239.9,171) scale(1.1,1)">MT</text>
<text class="lb" transform="translate(239.9,182) scale(1.03,1)">4</text>
<text class="lb" transform="translate(256,245.6) scale(1.1,1)">WY</text>
<text class="lb" transform="translate(256,256.6) scale(1.03,1)">3</text>
<text class="lb" transform="translate(274.9,319.75) scale(1.03,1)">CO</text>
<text class="lb" transform="translate(274.9,330.75) scale(1.03,1)">10</text>
<text class="lb" transform="translate(258.5,400.8) scale(1.1,1)">NM</text>
<text class="lb" transform="translate(258.5,411.8) scale(1.03,1)">5</text>
<text class="lb" transform="translate(355.5,459.8) scale(1.03,1)">TX</text>
<text class="lb" transform="translate(355.5,470.8) scale(1.03,1)">40</text>
<text class="lb" transform="translate(351.4,177.1) scale(1.03,1)">ND</text>
<text class="lb" transform="translate(351.4,188.1) scale(1.03,1)">3</text>
<text class="lb" transform="translate(351.4,231) scale(1.03,1)">SD</text>
<text class="lb" transform="translate(351.4,242) scale(1.03,1)">3</text>
<text class="lb" transform="translate(421.2,195.8) scale(1.1,1)">MN</text>
<text class="lb" transform="translate(421.2,206.8) scale(1.03,1)">10</text>
<text class="lb" transform="translate(372.5,339.85) scale(1.03,1)">KS</text>
<text class="lb" transform="translate(372.5,350.85) scale(1.03,1)">6</text>
<text class="lb" transform="translate(437.8,275.75) scale(1.03,1)">IA</text>
<text class="lb" transform="translate(437.8,286.75) scale(1.03,1)">6</text>
<text class="lb" transform="translate(449,336.65) scale(1.1,1)">MO</text>
<text class="lb" transform="translate(449,347.65) scale(1.03,1)">10</text>
<text class="lb" transform="translate(383.7,392.6) scale(1.03,1)">OK</text>
<text class="lb" transform="translate(383.7,403.6) scale(1.03,1)">7</text>
<text class="lb" transform="translate(456,403.7) scale(1.03,1)">AR</text>
<text class="lb" transform="translate(456,414.7) scale(1.03,1)">6</text>
<text class="lb" transform="translate(456,467.75) scale(1.03,1)">LA</text>
<text class="lb" transform="translate(456,478.75) scale(1.03,1)">8</text>
<text class="lb" transform="translate(481,228.1) scale(1.1,1)">WI</text>
<text class="lb" transform="translate(481,239.1) scale(1.03,1)">10</text>
<text class="lb" transform="translate(544.3,238.65) scale(1.1,1)">MI</text>
<text class="lb" transform="translate(544.3,249.65) scale(1.03,1)">15</text>
<text class="lb" transform="translate(497.1,303.4) scale(1.03,1)">IL</text>
<text class="lb" transform="translate(497.1,314.4) scale(1.03,1)">19</text>
<text class="lb" transform="translate(536.1,303.55) scale(1.03,1)">IN</text>
<text class="lb" transform="translate(536.1,314.55) scale(1.03,1)">11</text>
<text class="lb" transform="translate(581.6,296) scale(1.03,1)">OH</text>
<text class="lb" transform="translate(581.6,307) scale(1.03,1)">17</text>
<text class="lb" transform="translate(563.5,345.9) scale(1.03,1)">KY</text>
<text class="lb" transform="translate(563.5,356.9) scale(1.03,1)">8</text>
<text class="lb" transform="translate(542.6,380.6) scale(1.03,1)">TN</text>
<text class="lb" transform="translate(542.6,391.6) scale(1.03,1)">11</text>
<text class="lb" transform="translate(499.1,435.9) scale(1.1,1)">MS</text>
<text class="lb" transform="translate(499.1,446.9) scale(1.03,1)">6</text>
<text class="lb" transform="translate(541.1,431.8) scale(1.03,1)">AL</text>
<text class="lb" transform="translate(541.1,442.8) scale(1.03,1)">9</text>
<text class="lb" transform="translate(590.3,427.8) scale(1.03,1)">GA</text>
<text class="lb" transform="translate(590.3,438.8) scale(1.03,1)">16</text>
<text class="lb" transform="translate(629.1,406.65) scale(1.03,1)">SC</text>
<text class="lb" transform="translate(629.1,417.65) scale(1.03,1)">9</text>
<text class="lb" transform="translate(636.1,511.9) scale(1.03,1)">FL</text>
<text class="lb" transform="translate(636.1,522.9) scale(1.03,1)">30</text>
<text class="lb" transform="translate(648.8,331.25) scale(1.03,1)">VA</text>
<text class="lb" transform="translate(648.8,342.25) scale(1.03,1)">13</text>
<text class="lb" transform="translate(652.4,372.25) scale(1.03,1)">NC</text>
<text class="lb" transform="translate(652.4,383.25) scale(1.03,1)">16</text>
<text class="lb" transform="translate(612.6,325.25) scale(1.1,1)">WV</text>
<text class="lb" transform="translate(612.6,336.25) scale(1.03,1)">4</text>
<text class="lb" transform="translate(645.9,272.6) scale(1.03,1)">PA</text>
<text class="lb" transform="translate(645.9,283.6) scale(1.03,1)">19</text>
<text class="lb" transform="translate(673.7,227.2) scale(1.03,1)">NY</text>
<text class="lb" transform="translate(673.7,238.2) scale(1.03,1)">28</text>
<text class="lb" transform="translate(696.9,199) scale(1.03,1)">VT</text>
<text class="lb" transform="translate(696.9,210) scale(1.03,1)">3</text>
<text class="lb" transform="translate(714.3,212.4) scale(1.03,1)">NH</text>
<text class="lb" transform="translate(714.3,223.4) scale(1.03,1)">4</text>
<text class="lb" transform="translate(95.1,502.95) scale(1.03,1)">AK</text>
<text class="lb" transform="translate(95.1,513.95) scale(1.03,1)">3</text>
<text class="lb" transform="translate(355,285) scale(1.03,1)">NE</text>
<text class="lb" transform="translate(346.5,299.5) scale(1.03,1)">4</text>
<text class="lb" transform="translate(363,299.5) scale(1.03,1)">1</text>
<text class="lb" transform="translate(733,171) scale(1.1,1)">ME</text>
<text class="lb" transform="translate(716,185) scale(1.03,1)">2</text>
<text class="lb" transform="translate(732.8,185) scale(1.03,1)">1</text>
<text class="lb" transform="translate(748.3,185) scale(1.03,1)">1</text>
<text class="lb" transform="translate(244.6,557) scale(1.03,1)" style="fill:#000;stroke:#000">HI</text>
<text class="lb" transform="translate(244.6,568.5) scale(1.03,1)" style="fill:#000;stroke:#000">4</text>
<rect x="718" y="288.1" width="47.8" height="21.6" fill="#244999"/>
<text class="bx" transform="translate(722,302.1) scale(1.1,1)">MA</text>
<text class="lb" transform="translate(754.5,303.1) scale(1.03,1)">11</text>
<rect x="718" y="314.17" width="47.8" height="21.6" fill="#244999"/>
<text class="bx" transform="translate(722,328.17) scale(1.03,1)">RI</text>
<text class="lb" transform="translate(754.5,329.17) scale(1.03,1)">4</text>
<rect x="718" y="340.24" width="47.8" height="21.6" fill="#244999"/>
<text class="bx" transform="translate(722,354.24) scale(1.03,1)">CT</text>
<text class="lb" transform="translate(754.5,355.24) scale(1.03,1)">7</text>
<rect x="718" y="366.31" width="47.8" height="21.6" fill="#577ccc"/>
<text class="bx" transform="translate(722,380.31) scale(1.03,1)">NJ</text>
<text class="lb" transform="translate(754.5,381.31) scale(1.03,1)">14</text>
<rect x="718" y="392.38" width="47.8" height="21.6" fill="#244999"/>
<text class="bx" transform="translate(722,406.38) scale(1.03,1)">DE</text>
<text class="lb" transform="translate(754.5,407.38) scale(1.03,1)">3</text>
<rect x="718" y="418.45" width="47.8" height="21.6" fill="#244999"/>
<text class="bx" transform="translate(722,432.45) scale(1.1,1)">MD</text>
<text class="lb" transform="translate(754.5,433.45) scale(1.03,1)">10</text>
<rect x="718" y="444.52" width="47.8" height="21.6" fill="#244999"/>
<text class="bx" transform="translate(722,458.52) scale(1.03,1)">DC</text>
<text class="lb" transform="translate(754.5,459.52) scale(1.03,1)">3</text>
<text transform="translate(640.1,461.8) scale(0.815,1)" style="font-family:'Liberation Sans',sans-serif;font-weight:bold;font-size:32px;fill:#1f4585;stroke:#1f4585;stroke-width:1.7;stroke-linejoin:miter">270</text>
<text transform="translate(654,478.3) scale(0.965,1)" style="font-family:'Liberation Sans',sans-serif;font-size:16.2px;fill:#8e1b38;stroke:#8e1b38;stroke-width:0.6">WIN</text>
<text transform="translate(651.6,478) rotate(-90) scale(0.5,1)" style="font-family:'Liberation Sans',sans-serif;font-size:16.3px;fill:#3b3f58;stroke:#3b3f58;stroke-width:1.3">TO</text>
<rect x="735" y="508.4" width="40.6" height="65.2" rx="14" ry="15" fill="#000"/>
<text x="756.6" y="554" text-anchor="middle" style="font-family:'Liberation Sans','DejaVu Sans',sans-serif;font-size:45px;fill:#fff;stroke:#fff;stroke-width:1">١</text>
</svg>
</body>
</html>
